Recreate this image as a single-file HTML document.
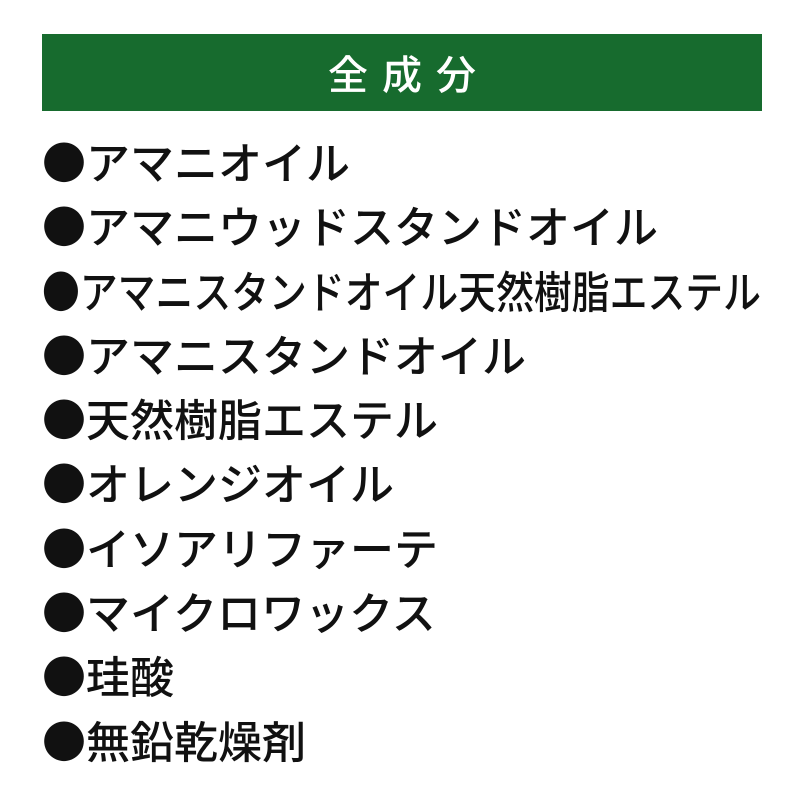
<!DOCTYPE html>
<html><head><meta charset="utf-8"><style>
html,body{margin:0;padding:0;background:#fff;width:800px;height:800px;overflow:hidden}
.h{position:absolute;left:42px;top:34px;width:720px;height:77px;background:#176b2e;color:#fff;
font-family:"Noto Sans CJK JP",sans-serif;font-size:40px;font-weight:500;
text-align:center;line-height:77px;letter-spacing:14px;text-indent:14px}
.l{position:absolute;left:42px;top:128px;width:1000px;font-family:"Noto Sans CJK JP",sans-serif;
font-size:44px;font-weight:500;line-height:64.3px;color:#111;white-space:nowrap}
.l div{height:64.3px}
.s{display:inline-block;transform-origin:0 50%;transform:scaleX(0.86)}
</style></head><body>
<div class="h">全成分</div>
<div class="l"><div>●アマニオイル</div><div>●アマニウッドスタンドオイル</div><div><span class="s">●アマニスタンドオイル天然樹脂エステル</span></div><div>●アマニスタンドオイル</div><div>●天然樹脂エステル</div><div>●オレンジオイル</div><div>●イソアリファーテ</div><div>●マイクロワックス</div><div>●珪酸</div><div>●無鉛乾燥剤</div></div>
</body></html>
